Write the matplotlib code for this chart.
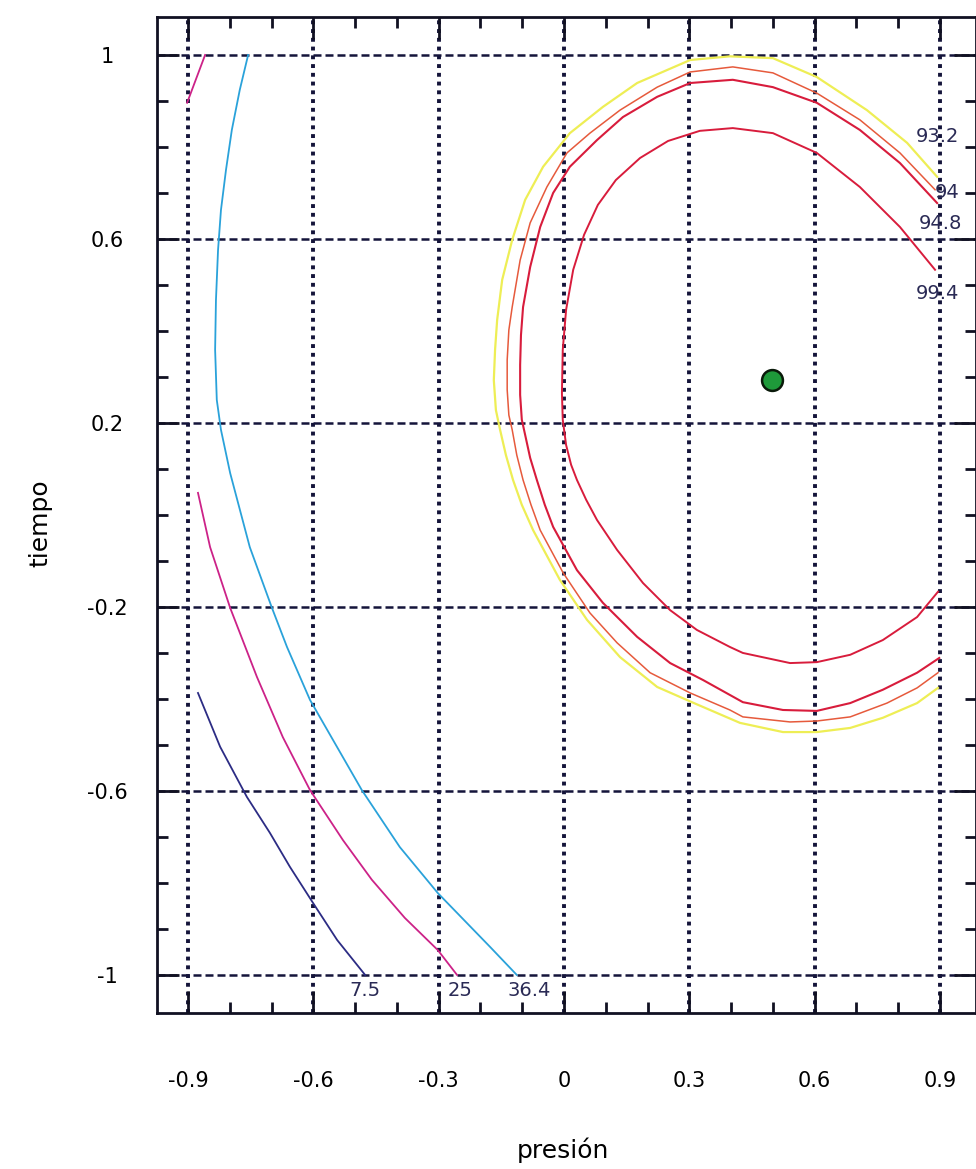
import matplotlib
matplotlib.use("Agg")
import matplotlib.pyplot as plt

# ---------------- data ----------------
x_ticks = [-0.9, -0.6, -0.3, 0.0, 0.3, 0.6, 0.9]
x_ticklabels = ["-0.9", "-0.6", "-0.3", "0", "0.3", "0.6", "0.9"]
y_ticks = [1.0, 0.6, 0.2, -0.2, -0.6, -1.0]
y_ticklabels = ["1", "0.6", "0.2", "-0.2", "-0.6", "-1"]

# contour 93.2 (yellow)
c932_x = [0.893, 0.821, 0.725, 0.605, 0.500, 0.397, 0.302, 0.175, 0.093, 0.014, -0.050, -0.093,
          -0.124, -0.148, -0.160, -0.165, -0.168, -0.163, -0.153, -0.139, -0.122, -0.101, -0.074,
          -0.010, 0.055, 0.134, 0.223, 0.306, 0.421, 0.524, 0.605, 0.685, 0.763, 0.845, 0.895]
c932_y = [0.735, 0.809, 0.880, 0.952, 0.993, 0.997, 0.989, 0.939, 0.887, 0.830, 0.757, 0.685,
          0.598, 0.511, 0.424, 0.359, 0.293, 0.228, 0.185, 0.130, 0.076, 0.022, -0.033,
          -0.141, -0.228, -0.309, -0.374, -0.407, -0.452, -0.472, -0.472, -0.463, -0.441, -0.409,
          -0.376]

# contour 94 (orange-red, thin)
c94_x = [0.888, 0.804, 0.708, 0.605, 0.500, 0.404, 0.302, 0.223, 0.134, 0.062, 0.007, -0.041,
         -0.081, -0.105, -0.124, -0.132, -0.136, -0.136, -0.132, -0.124, -0.113, -0.098, -0.079,
         -0.057, -0.002, 0.062, 0.127, 0.206, 0.302, 0.397, 0.428, 0.541, 0.605, 0.685, 0.773,
         0.845, 0.895]
c94_y = [0.707, 0.787, 0.859, 0.917, 0.961, 0.974, 0.963, 0.930, 0.880, 0.830, 0.787, 0.713,
         0.635, 0.554, 0.452, 0.402, 0.337, 0.272, 0.217, 0.185, 0.130, 0.076, 0.022,
         -0.033, -0.126, -0.213, -0.278, -0.343, -0.387, -0.424, -0.439, -0.450, -0.448, -0.439,
         -0.409, -0.376, -0.343]

# contour 94.8 (red)
c948_x = [0.893, 0.804, 0.708, 0.605, 0.500, 0.404, 0.302, 0.223, 0.141, 0.079, 0.014, -0.026,
          -0.057, -0.081, -0.098, -0.103, -0.105, -0.105, -0.101, -0.093, -0.081, -0.065, -0.046,
          -0.026, 0.031, 0.093, 0.175, 0.254, 0.333, 0.428, 0.524, 0.605, 0.685, 0.763, 0.845,
          0.898]
c948_y = [0.678, 0.765, 0.837, 0.896, 0.930, 0.946, 0.939, 0.909, 0.865, 0.815, 0.757, 0.700,
          0.626, 0.539, 0.452, 0.391, 0.326, 0.261, 0.207, 0.174, 0.124, 0.076, 0.022,
          -0.026, -0.120, -0.191, -0.265, -0.322, -0.359, -0.407, -0.424, -0.426, -0.409, -0.380,
          -0.343, -0.311]

# contour 99.4 (red, inner)
c994_x = [0.888, 0.804, 0.708, 0.605, 0.500, 0.404, 0.325, 0.249, 0.182, 0.124, 0.081, 0.048,
          0.022, 0.005, -0.003, -0.005, -0.003, 0.005, 0.017, 0.031, 0.053, 0.079, 0.127, 0.189,
          0.254, 0.318, 0.397, 0.428, 0.541, 0.605, 0.685, 0.763, 0.845, 0.895]
c994_y = [0.533, 0.626, 0.713, 0.787, 0.830, 0.841, 0.835, 0.813, 0.776, 0.728, 0.674, 0.609,
          0.533, 0.446, 0.359, 0.265, 0.207, 0.152, 0.109, 0.076, 0.033, -0.011, -0.076, -0.148,
          -0.207, -0.250, -0.287, -0.300, -0.322, -0.320, -0.304, -0.272, -0.222, -0.167]

# contour 36.4 (cyan)
c364_x = [-0.756, -0.776, -0.795, -0.809, -0.821, -0.828, -0.833, -0.835, -0.831, -0.821, -0.799,
          -0.752, -0.699, -0.663, -0.608, -0.484, -0.393, -0.302, -0.177, -0.113]
c364_y = [1.000, 0.924, 0.837, 0.750, 0.663, 0.576, 0.467, 0.359, 0.250, 0.185, 0.091,
          -0.070, -0.202, -0.287, -0.402, -0.598, -0.722, -0.822, -0.939, -1.000]

# contour 25 (magenta), two pieces
c25a_x = [-0.902, -0.859]
c25a_y = [0.896, 1.000]
c25b_x = [-0.876, -0.847, -0.799, -0.735, -0.673, -0.608, -0.529, -0.460, -0.381, -0.302, -0.256]
c25b_y = [0.048, -0.070, -0.202, -0.352, -0.483, -0.598, -0.707, -0.793, -0.876, -0.946, -1.000]

# contour 7.5 (navy)
c75_x = [-0.876, -0.823, -0.759, -0.704, -0.656, -0.601, -0.543, -0.476]
c75_y = [-0.387, -0.504, -0.613, -0.691, -0.765, -0.843, -0.924, -1.000]

# contour labels
label_texts = ["93.2", "94", "94.8", "99.4", "7.5", "25", "36.4"]
label_x = [0.893, 0.917, 0.900, 0.893, -0.476, -0.249, -0.084]
label_y = [0.822, 0.702, 0.633, 0.482, -1.033, -1.033, -1.033]

# optimum point
opt_x = [0.498]
opt_y = [0.293]

# ---------------- figure ----------------
fig = plt.figure(figsize=(9.76, 11.69), dpi=100)
ax = fig.add_axes([0.1609, 0.1335, 0.8391, 0.852])
ax.set_xlim(-0.974, 0.986)
ax.set_ylim(-1.0826, 1.0826)

gridc = "#14143a"
for xv in x_ticks:
    ax.axvline(xv, color=gridc, lw=2.8, ls=(0, (1.0, 1.25)), zorder=1)
for yv in y_ticks:
    ax.axhline(yv, color=gridc, lw=1.8, ls=(0, (3.2, 1.6)), zorder=1)

lw = 1.3
ax.plot(c932_x, c932_y, color="#eeee55", lw=1.6, zorder=3)
ax.plot(c94_x, c94_y, color="#e65a3c", lw=1.1, zorder=3)
ax.plot(c948_x, c948_y, color="#d81c3c", lw=1.5, zorder=3)
ax.plot(c994_x, c994_y, color="#d81c3c", lw=1.4, zorder=3)
ax.plot(c364_x, c364_y, color="#2aa2da", lw=lw, zorder=3)
ax.plot(c25a_x, c25a_y, color="#cc2288", lw=lw, zorder=3)
ax.plot(c25b_x, c25b_y, color="#cc2288", lw=lw, zorder=3)
ax.plot(c75_x, c75_y, color="#2c2c84", lw=lw, zorder=3)

for t, x, y in zip(label_texts, label_x, label_y):
    ax.text(x, y, t, ha="center", va="center", fontsize=14, color="#2a2a55", zorder=4)

ax.plot(opt_x, opt_y, marker="o", ms=15, mfc="#1e9a3a", mec="#0a1a0a", mew=1.8,
        ls="none", zorder=5)

# ticks
ax.set_xticks(x_ticks)
ax.set_xticklabels(x_ticklabels)
ax.set_yticks(y_ticks)
ax.set_yticklabels(y_ticklabels)
ax.set_xticks([v / 10 for v in range(-9, 10)], minor=True)
ax.set_yticks([v / 10 for v in range(-10, 11)], minor=True)
ax.tick_params(which="both", direction="in", top=True, right=True, color="#111122", width=2)
ax.tick_params(which="major", length=16, labelsize=15)
ax.tick_params(which="minor", length=8)
ax.tick_params(axis="x", pad=42)
ax.tick_params(axis="y", pad=36)
for lab in ax.get_yticklabels():
    lab.set_horizontalalignment("center")

for s in ax.spines.values():
    s.set_linewidth(2)
    s.set_color("#111122")

ax.set_xlabel("presión", fontsize=18)
ax.xaxis.set_label_coords(0.496, -0.1375)
ax.xaxis.label.set_verticalalignment("center")
ax.set_ylabel("tiempo", fontsize=18)
ax.yaxis.set_label_coords(-0.143, 0.492)
ax.yaxis.label.set_verticalalignment("center")

fig.savefig("out.png", dpi=100)
